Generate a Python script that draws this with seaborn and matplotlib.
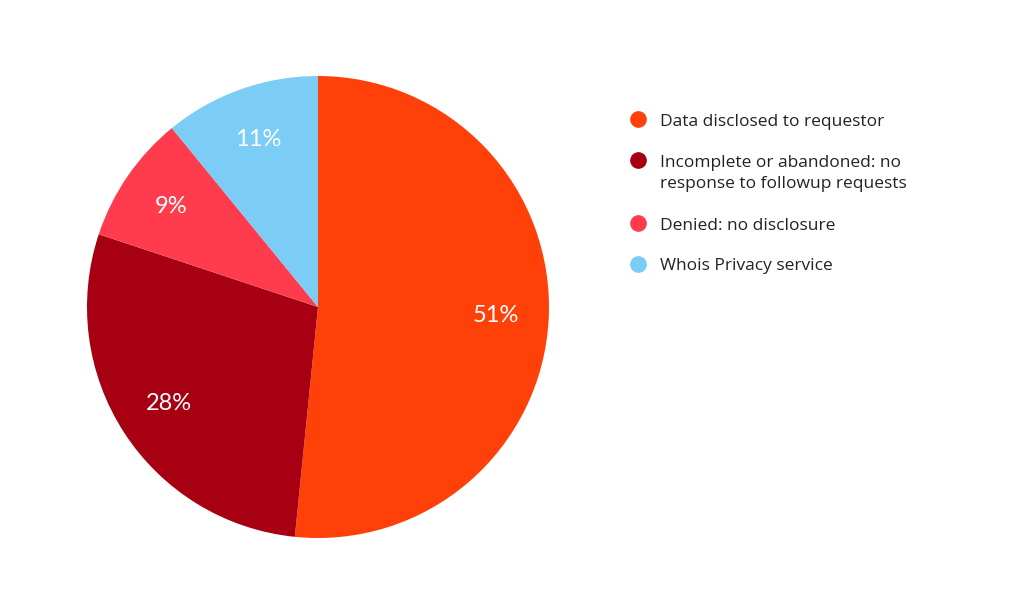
import matplotlib
matplotlib.use("Agg")
import matplotlib.pyplot as plt
import seaborn as sns
import numpy as np
from matplotlib.lines import Line2D

categories = ["Data disclosed to requestor",
              "Incomplete or abandoned: no\nresponse to followup requests",
              "Denied: no disclosure",
              "Whois Privacy service"]
values = [51.6, 28.5, 9.0, 10.9]
pct_labels = ["51%", "28%", "9%", "11%"]
colors = ["#FF4109", "#A60012", "#FF3B4E", "#7BCDF6"]

sns.set_theme(style="white")
plt.rcParams['font.family'] = ['Open Sans', 'DejaVu Sans']

W, H = 1024, 614
fig = plt.figure(figsize=(W/100, H/100), dpi=100)
ax = fig.add_axes([87/W, 76/H, 462/W, 462/H])

wedges, texts = ax.pie(values, colors=colors, startangle=90, counterclock=False,
                       radius=1.0, wedgeprops=dict(linewidth=0))
for w, lab in zip(wedges, pct_labels):
    ang = np.deg2rad((w.theta1 + w.theta2) / 2)
    r = 0.77
    ax.text(r*np.cos(ang), r*np.sin(ang), lab, ha="center", va="center",
            color="white", fontsize=17, family=["Lato", "DejaVu Sans"])
ax.set_xlim(-1, 1)
ax.set_ylim(-1, 1)
ax.set_aspect("equal")
ax.axis("off")

# legend drawn manually so that the marker sits on the first line of each label
y = 119
line_gap = 22
for c, lab in zip(colors, categories):
    extra = lab.count("\n")
    fig.add_artist(Line2D([638/W], [1 - y/H], transform=fig.transFigure,
                          marker="o", linestyle="", markersize=11,
                          markerfacecolor=c, markeredgecolor=c))
    fig.text(660/W, 1 - (y + 6.5 + line_gap * extra)/H, lab, ha="left",
             va="baseline", fontsize=12.5, color="#222222", linespacing=1.47)
    y += 41 + line_gap * extra

fig.savefig("out.png", dpi=100, facecolor="white")
